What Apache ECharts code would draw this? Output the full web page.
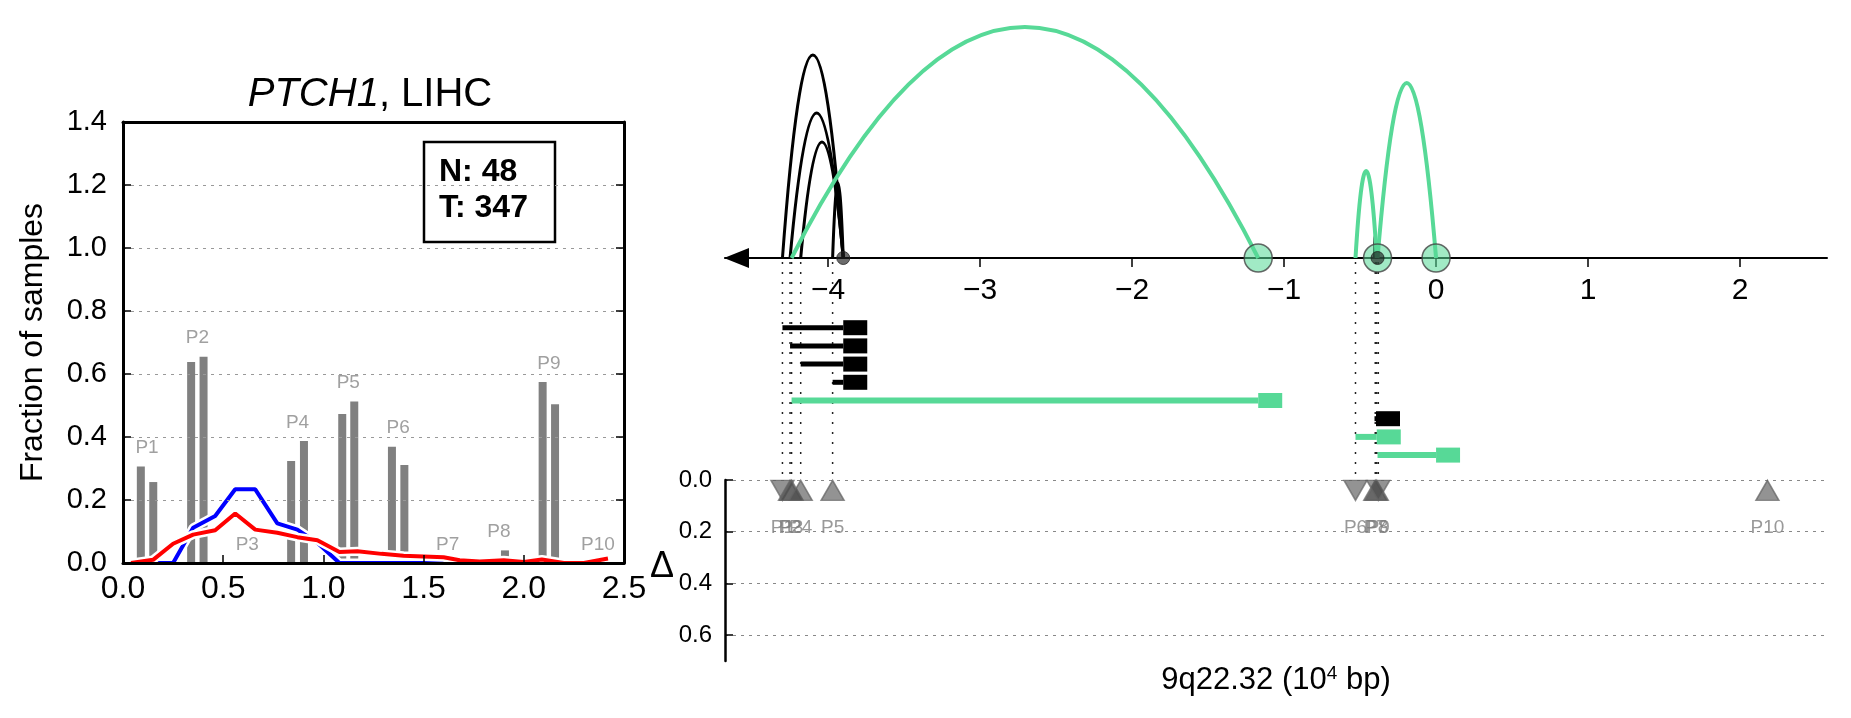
<!DOCTYPE html>
<html><head><meta charset="utf-8">
<script src="https://cdn.jsdelivr.net/npm/echarts@6/dist/echarts.min.js"></script>
<style>html,body{margin:0;padding:0;background:#fff}#c{width:1851px;height:718px}</style>
</head><body><div id="c"></div>
<script>
// ---------- Left panel data ----------
const pLabels = ['P1','P2','P3','P4','P5','P6','P7','P8','P9','P10'];
const barXA = [0.089,0.340,0.59,0.839,1.094,1.342,1.59,1.845,2.094,2.34];
const barXB = [0.151,0.402,0.65,0.903,1.154,1.404,1.65,1.906,2.156,2.40];
const barValA = [0.306,0.638,0,0.324,0.473,0.369,0,0,0.575,0];
const barValB = [0.257,0.655,0,0.387,0.513,0.311,0,0.04,0.504,0];
const curveX = [0.04,0.15,0.25,0.35,0.46,0.56,0.66,0.77,0.87,0.97,1.08,1.17,1.29,1.40,1.50,1.60,1.68,1.78,1.90,2.00,2.09,2.20,2.30,2.42];
const blueY = [0,0,0,0.112,0.149,0.234,0.234,0.126,0.106,0.064,0,0,0,0,0,0,0,0,0,0,0,0,0,0];
const redY = [0,0.01,0.061,0.09,0.104,0.157,0.106,0.096,0.082,0.072,0.035,0.037,0.029,0.023,0.021,0.018,0.009,0.005,0.009,0.003,0.011,0,0,0.014];
const leftXTicks = [0,0.5,1,1.5,2,2.5];
const leftYTicks = [0,0.2,0.4,0.6,0.8,1.0,1.2,1.4];
const nCount = 48, tCount = 347;
const geneName = 'PTCH1', cohort = 'LIHC';

// ---------- Right panel data ----------
const arcStart  = [-4.30,-4.25,-4.18,-3.97,-4.24,-0.405,-0.53,-0.385];
const arcEnd    = [-3.90,-3.90,-3.90,-3.90,-1.17,-0.395,-0.39,0.0];
const arcHeight = [203,145,116,75,231,23,87,175];
const arcType   = ['black','black','black','black','green','black','green','green'];
const greenBreaks = [-1.17,-0.385,0.0];
const blackBreaks = [-3.90,-0.385];
const pPos   = [-4.30,-4.25,-4.24,-4.18,-3.97,-0.53,-0.40,-0.39,-0.38,2.18];
const pDir   = ['down','up','up','up','up','down','up','up','down','up'];
const pDelta = [0.04,0.04,0.04,0.04,0.04,0.04,0.04,0.04,0.04,0.04];
const dottedCount = 9;
const topTicks = [-4,-3,-2,-1,0,1,2];
const deltaTicks = [0,0.2,0.4,0.6];

const GREEN = '#57d997';
const FONT = 'Liberation Sans, Arial, Helvetica, sans-serif';
const XMIN = -4.678, XMAX = 2.572;

const chart = echarts.init(document.getElementById('c'));

const fmtMinus = v => (v < 0 ? '\u2212' + Math.abs(v) : String(v));

const option = {
  animation: false,
  backgroundColor: '#fff',
  textStyle: {fontFamily: FONT},
  grid: [
    {left: 123, right: 1227, top: 122, bottom: 155},
    {left: 725, right: 24, top: 8, bottom: 460},
    {left: 725, right: 24, top: 262, bottom: 242},
    {left: 725, right: 24, top: 318.6, bottom: 253.8},
    {left: 725, right: 24, top: 480, bottom: 57}
  ],
  xAxis: [
    {gridIndex: 0, type: 'value', min: 0, max: 2.5, interval: 0.5, position: 'bottom', z: 10,
     axisLine: {show: true, onZero: false, lineStyle: {color: '#000', width: 3}},
     axisTick: {show: true, inside: true, length: 8, lineStyle: {color: '#000', width: 1.5}},
     axisLabel: {fontSize: 32, color: '#000', margin: 10, formatter: v => v.toFixed(1)},
     splitLine: {show: false}},
    {gridIndex: 0, type: 'value', min: 0, max: 2.5, position: 'top', z: 10,
     axisLine: {show: true, onZero: false, lineStyle: {color: '#000', width: 3}},
     axisTick: {show: false}, axisLabel: {show: false}, splitLine: {show: false}},
    {gridIndex: 1, type: 'value', min: XMIN, max: XMAX, position: 'bottom',
     axisLine: {show: true, onZero: false, lineStyle: {color: '#000', width: 2},
                symbol: ['triangle', 'none'], symbolSize: [20, 25], symbolOffset: [11.5, 0]},
     axisTick: {show: true, inside: false, length: 9, customValues: topTicks, lineStyle: {color: '#000', width: 1.5}},
     axisLabel: {customValues: topTicks, fontSize: 30, color: '#000', margin: 18, formatter: fmtMinus},
     splitLine: {show: false}},
    {gridIndex: 2, type: 'value', min: XMIN, max: XMAX, show: false},
    {gridIndex: 3, type: 'value', min: XMIN, max: XMAX, show: false},
    {gridIndex: 4, type: 'value', min: XMIN, max: XMAX, show: false}
  ],
  yAxis: [
    {gridIndex: 0, type: 'value', min: 0, max: 1.4, interval: 0.2, position: 'left', z: 10,
     name: 'Fraction of samples', nameLocation: 'middle', nameGap: 74,
     nameTextStyle: {fontSize: 32, color: '#000'},
     axisLine: {show: true, onZero: false, lineStyle: {color: '#000', width: 3}},
     axisTick: {show: true, inside: true, length: 8, lineStyle: {color: '#000', width: 1.5}},
     axisLabel: {fontSize: 29, color: '#000', margin: 16, formatter: v => v.toFixed(1)},
     splitLine: {show: true, lineStyle: {color: '#999', width: 1, type: [3, 5]}}},
    {gridIndex: 0, type: 'value', min: 0, max: 1.4, interval: 0.2, position: 'right', z: 10,
     axisLine: {show: true, onZero: false, lineStyle: {color: '#000', width: 3}},
     axisTick: {show: true, inside: true, length: 8, lineStyle: {color: '#000', width: 1.5}},
     axisLabel: {show: false}, splitLine: {show: false}},
    {gridIndex: 1, type: 'value', min: 0, max: 250, show: false},
    {gridIndex: 2, type: 'value', min: 0, max: 1, show: false, inverse: true},
    {gridIndex: 3, type: 'value', min: -0.5, max: 7.5, show: false, inverse: true},
    {gridIndex: 4, type: 'value', min: 0, max: 0.7, inverse: true, position: 'left',
     axisLine: {show: true, onZero: false, lineStyle: {color: '#000', width: 2.5}},
     axisTick: {show: true, inside: true, length: 8, customValues: deltaTicks, lineStyle: {color: '#000', width: 1.5}},
     axisLabel: {customValues: deltaTicks, fontSize: 24, color: '#000', margin: 13, formatter: v => v.toFixed(1)},
     splitLine: {show: true, lineStyle: {color: '#888', width: 1, type: [3, 5]}}}
  ],
  graphic: [
    {type: 'text', x: 370, y: 95, style: {text: '{i|' + geneName + '}, ' + cohort, fontSize: 40, fontFamily: FONT,
      fill: '#000', align: 'center', verticalAlign: 'middle',
      rich: {i: {fontStyle: 'italic', fontSize: 40, fontFamily: FONT}}}},
    {type: 'rect', shape: {x: 424, y: 142, width: 131, height: 100}, style: {fill: 'none', stroke: '#000', lineWidth: 2.5}},
    {type: 'text', x: 439, y: 190, style: {text: 'N: ' + nCount + '\nT: ' + tCount, fontSize: 32, fontWeight: 'bold',
      fontFamily: FONT, lineHeight: 36, fill: '#000', align: 'left', verticalAlign: 'middle'}},
    {type: 'text', x: 662, y: 567, style: {text: '\u0394', fontSize: 36, fontFamily: FONT, fill: '#000', align: 'center', verticalAlign: 'middle'}},
    {type: 'text', x: 1276, y: 680, style: {text: '9q22.32 (10{s|4} bp)', fontSize: 31, fontFamily: FONT, fill: '#000',
      align: 'center', verticalAlign: 'middle', rich: {s: {fontSize: 19, fontFamily: FONT, verticalAlign: 'top'}}}}
  ],
  series: [
    {type: 'custom', xAxisIndex: 0, yAxisIndex: 0, z: 2,
     data: barXA.flatMap((x, i) => [[x, barValA[i]], [barXB[i], barValB[i]]]),
     renderItem: (params, api) => {
       const p0 = api.coord([api.value(0), 0]);
       const p1 = api.coord([api.value(0), api.value(1)]);
       return {type: 'rect', shape: {x: p0[0] - 4, y: p1[1], width: 8, height: p0[1] - p1[1]}, style: {fill: '#808080'}};
     }},
    {type: 'scatter', xAxisIndex: 0, yAxisIndex: 0, symbolSize: 0, z: 3,
     itemStyle: {color: 'rgba(0,0,0,0)'},
     data: pLabels.map((n, i) => ({name: n, value: [(barXA[i] + barXB[i]) / 2, Math.max(barValA[i], barValB[i])]})),
     label: {show: true, position: 'top', distance: 9, formatter: '{b}', color: '#888', fontSize: 19}},
    {type: 'line', xAxisIndex: 0, yAxisIndex: 0, symbol: 'none', z: 4,
     data: curveX.map((x, i) => [x, blueY[i]]), lineStyle: {color: '#fff', width: 9}},
    {type: 'line', xAxisIndex: 0, yAxisIndex: 0, symbol: 'none', z: 4,
     data: curveX.map((x, i) => [x, blueY[i]]), lineStyle: {color: '#0000ff', width: 4}},
    {type: 'line', xAxisIndex: 0, yAxisIndex: 0, symbol: 'none', z: 4,
     data: curveX.map((x, i) => [x, redY[i]]), lineStyle: {color: '#fff', width: 9}},
    {type: 'line', xAxisIndex: 0, yAxisIndex: 0, symbol: 'none', z: 4,
     data: curveX.map((x, i) => [x, redY[i]]), lineStyle: {color: '#ff0000', width: 4}},

    {type: 'custom', xAxisIndex: 2, yAxisIndex: 2, z: 3,
     data: arcStart.map((s, i) => [s, arcEnd[i], arcHeight[i]]),
     renderItem: (params, api) => {
       const p1 = api.coord([api.value(0), 0]);
       const p2 = api.coord([api.value(1), 0]);
       const h = api.size([0, api.value(2)])[1];
       const green = arcType[params.dataIndex] === 'green';
       return {type: 'bezierCurve',
         shape: {x1: p1[0], y1: p1[1], x2: p2[0], y2: p2[1], cpx1: (p1[0] + p2[0]) / 2, cpy1: p1[1] - 2 * h},
         style: {fill: 'none', stroke: green ? GREEN : '#000', lineWidth: green ? 4 : 3}};
     }},
    {type: 'scatter', xAxisIndex: 2, yAxisIndex: 2, symbol: 'circle', symbolSize: 28, z: 5,
     data: greenBreaks.map(x => [x, 0]),
     itemStyle: {color: 'rgba(87,217,151,0.7)', borderColor: '#444', borderWidth: 1.5}},
    {type: 'scatter', xAxisIndex: 2, yAxisIndex: 2, symbol: 'circle', symbolSize: 13, z: 6,
     data: blackBreaks.map(x => [x, 0]),
     itemStyle: {color: 'rgba(30,30,30,0.82)', borderColor: '#222', borderWidth: 1}},

    {type: 'custom', xAxisIndex: 3, yAxisIndex: 3, z: 1,
     data: pPos.slice(0, dottedCount).map(x => [x]),
     renderItem: (params, api) => {
       const a = api.coord([api.value(0), 0]);
       const b = api.coord([api.value(0), 1]);
       return {type: 'line', shape: {x1: a[0], y1: a[1], x2: b[0], y2: b[1]},
         style: {stroke: '#222', lineWidth: 1.5, lineDash: [2, 8]}};
     }},

    {type: 'custom', xAxisIndex: 4, yAxisIndex: 4, z: 3,
     data: arcStart.map((s, i) => [s, arcEnd[i], i]),
     renderItem: (params, api) => {
       const p1 = api.coord([api.value(0), api.value(2)]);
       const p2 = api.coord([api.value(1), api.value(2)]);
       const green = arcType[params.dataIndex] === 'green';
       const th = green ? 6 : 5;
       const col = green ? GREEN : '#000';
       return {type: 'group', children: [
         {type: 'rect', shape: {x: p1[0], y: p1[1] - th / 2, width: Math.max(p2[0] - p1[0], 1), height: th}, style: {fill: col}},
         {type: 'rect', shape: {x: p2[0], y: p2[1] - 7.5, width: 24, height: 15}, style: {fill: col}}
       ]};
     }},

    {type: 'scatter', xAxisIndex: 5, yAxisIndex: 5, symbol: 'triangle', symbolSize: [23, 20], z: 4,
     data: pLabels.map((n, i) => ({name: n, value: [pPos[i], pDelta[i]], symbolRotate: pDir[i] === 'down' ? 180 : 0})),
     itemStyle: {color: 'rgba(75,75,75,0.75)', borderColor: 'rgba(100,100,100,0.9)', borderWidth: 1.5},
     label: {show: true, position: 'bottom', distance: 17, formatter: '{b}', color: '#808080', fontSize: 19}}
  ]
};
chart.setOption(option);
</script>
</body></html>
